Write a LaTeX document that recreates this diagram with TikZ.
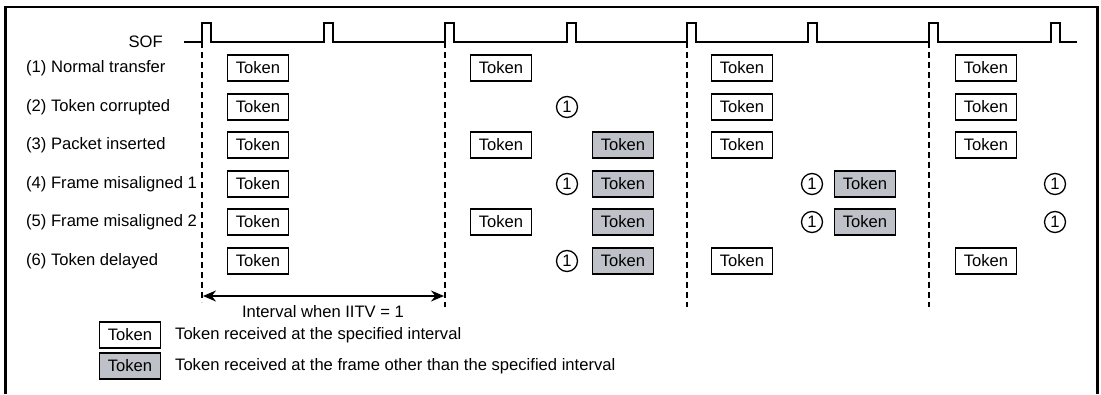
\documentclass[tikz,border=0pt]{standalone}
\usepackage{fontspec}
\setmainfont{Liberation Sans}
\usetikzlibrary{arrows.meta}
\definecolor{tokgray}{RGB}{190,194,200}
\newcommand{\dfont}{\fontsize{16.6}{19}\selectfont}
\tikzset{
  tok/.style={draw, line width=1.3pt, minimum width=61pt, minimum height=26pt, inner sep=0pt, font=\dfont},
  tokg/.style={tok, fill=tokgray},
  num/.style={draw, circle, line width=1.3pt, minimum size=21pt, inner sep=0pt, font=\dfont},
  lbl/.style={anchor=west, inner sep=0pt, font=\dfont},
  vdash/.style={line width=1.2pt, dash pattern=on 6pt off 4pt},
}
\begin{document}
\begin{tikzpicture}[x=1pt,y=-1pt]
\useasboundingbox (0,0) rectangle (1101,394);
% frame
\draw[line width=2.5pt] (5.5,394) -- (5.5,7) -- (1097.5,7) -- (1097.5,394);
% SOF
\node[lbl, anchor=east] (sof) at (163,42) {SOF};
\coordinate (s0) at (184,42);
\coordinate (s1) at (1077,42);
\draw[line width=1.3pt] (s0)
  \foreach \p in {202,324,445,567,687,808,929,1051}{ -- (\p,42) -- (\p,23) -- (\p+9,23) -- (\p+9,42)} -- (s1);
% dashed lines
\foreach \p/\e in {202/302,445/307,687/307,929/307}{
  \coordinate (dt\p) at (\p,42);
  \coordinate (db\p) at (\p,\e);
  \draw[vdash] (dt\p) -- (db\p);
}
% row labels
\node[lbl] (l1) at (26,68) {(1) Normal transfer};
\node[lbl] (l2) at (26,107) {(2) Token corrupted};
\node[lbl] (l3) at (26,145) {(3) Packet inserted};
\node[lbl] (l4) at (26,184) {(4) Frame misaligned 1};
\node[lbl] (l5) at (26,222) {(5) Frame misaligned 2};
\node[lbl] (l6) at (26,261) {(6) Token delayed};
% row 1
\node[tok] (r1a) at (258,68) {Token};
\node[tok] (r1b) at (501,68) {Token};
\node[tok] (r1c) at (742,68) {Token};
\node[tok] (r1d) at (986,68) {Token};
% row 2
\node[tok] (r2a) at (258,107) {Token};
\node[num] (r2n) at (567,107) {1};
\node[tok] (r2c) at (742,107) {Token};
\node[tok] (r2d) at (986,107) {Token};
% row 3
\node[tok] (r3a) at (258,145) {Token};
\node[tok] (r3b) at (501,145) {Token};
\node[tokg] (r3g) at (623,145) {Token};
\node[tok] (r3c) at (742,145) {Token};
\node[tok] (r3d) at (986,145) {Token};
% row 4
\node[tok] (r4a) at (258,184) {Token};
\node[num] (r4n1) at (567,184) {1};
\node[tokg] (r4g1) at (623,184) {Token};
\node[num] (r4n2) at (812,184) {1};
\node[tokg] (r4g2) at (865,184) {Token};
\node[num] (r4n3) at (1055,184) {1};
% row 5
\node[tok] (r5a) at (258,222) {Token};
\node[tok] (r5b) at (501,222) {Token};
\node[tokg] (r5g1) at (623,222) {Token};
\node[num] (r5n2) at (812,222) {1};
\node[tokg] (r5g2) at (865,222) {Token};
\node[num] (r5n3) at (1055,222) {1};
% row 6
\node[tok] (r6a) at (258,261) {Token};
\node[num] (r6n) at (567,261) {1};
\node[tokg] (r6g) at (623,261) {Token};
\node[tok] (r6c) at (742,261) {Token};
\node[tok] (r6d) at (986,261) {Token};
% interval arrow
\coordinate (ia) at (203,296);
\coordinate (ib) at (444,296);
\draw[line width=1.3pt, {Stealth[length=13pt,width=11pt]}-{Stealth[length=13pt,width=11pt]}] (ia) -- (ib);
\node[font=\dfont, inner sep=0pt] (il) at (323,312) {Interval when IITV = 1};
% legend
\node[tok] (lg1) at (130,335) {Token};
\node[lbl] (lt1) at (175,335) {Token received at the specified interval};
\node[tokg] (lg2) at (130,366) {Token};
\node[lbl] (lt2) at (175,366) {Token received at the frame other than the specified interval};
\end{tikzpicture}
\end{document}
